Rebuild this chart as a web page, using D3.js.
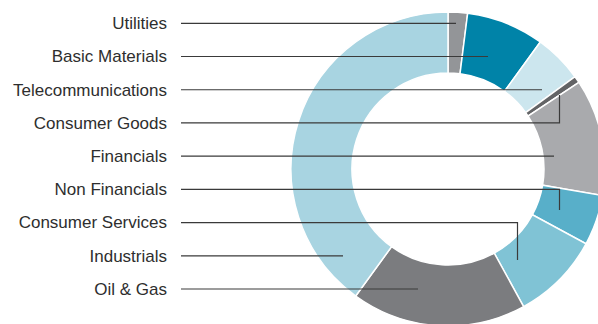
<!DOCTYPE html>
<html>
<head>
<meta charset="utf-8">
<script src="https://cdn.jsdelivr.net/npm/d3@7"></script>
<style>
  html, body { margin: 0; padding: 0; background: #fff; }
  svg { display: block; }
  text { font-family: "Liberation Sans", Arial, Helvetica, sans-serif; }
</style>
</head>
<body>
<svg id="chart" width="598" height="324"></svg>
<script>
// Sector weights (%), in clockwise order starting from 12 o'clock
const sectors = ["Utilities", "Basic Materials", "Telecommunications", "Consumer Goods",
                 "Financials", "Non Financials", "Consumer Services", "Oil & Gas", "Industrials"];
const weights = [2, 8, 5, 0.7, 12, 5.2, 9.1, 18, 40];
const colors  = ["#939598", "#0083a8", "#cce6ee", "#636466", "#a9aaad",
                 "#58afc9", "#80c3d5", "#7b7c7f", "#a8d4e1"];

// Label order down the left side
const labelOrder = ["Utilities", "Basic Materials", "Telecommunications", "Consumer Goods",
                    "Financials", "Non Financials", "Consumer Services", "Industrials", "Oil & Gas"];

// Leader line layout: where each horizontal rule ends, and optional vertical drop
const leaderEnd = {
  "Utilities":          { x: 456 },
  "Basic Materials":    { x: 488 },
  "Telecommunications": { x: 542 },
  "Consumer Goods":     { x: 559.5, y2: 95 },
  "Financials":         { x: 554 },
  "Non Financials":     { x: 559.5, y2: 210 },
  "Consumer Services":  { x: 517.5, y2: 260 },
  "Industrials":        { x: 343 },
  "Oil & Gas":          { x: 418 }
};

const svg = d3.select("#chart");
const cx = 448, cy = 169, rOuter = 157, rInner = 96;

const data = sectors.map((s, i) => ({ name: s, value: weights[i], color: colors[i] }));

const pie = d3.pie().value(d => d.value).sort(null);
const arc = d3.arc().innerRadius(rInner).outerRadius(rOuter);

const g = svg.append("g").attr("transform", `translate(${cx},${cy})`);
g.selectAll("path")
  .data(pie(data))
  .join("path")
  .attr("d", arc)
  .attr("fill", d => d.data.color)
  .attr("stroke", "#fff")
  .attr("stroke-width", 1.5)
  .attr("stroke-linejoin", "miter");

// Label rows
const y = d3.scalePoint().domain(labelOrder).range([23.3, 289]);
const textX = 167, lineX0 = 181;

svg.append("g").selectAll("text")
  .data(labelOrder)
  .join("text")
  .attr("x", textX)
  .attr("y", d => y(d))
  .attr("dy", "0.34em")
  .attr("text-anchor", "end")
  .attr("font-size", 17)
  .attr("fill", "#2e2e2e")
  .text(d => d);

const leaders = svg.append("g")
  .attr("fill", "none")
  .attr("stroke", "#3a3a3a")
  .attr("stroke-width", 1.2);

leaders.selectAll("path")
  .data(labelOrder)
  .join("path")
  .attr("d", d => {
    const e = leaderEnd[d];
    const yy = y(d);
    let p = `M${lineX0},${yy}H${e.x}`;
    if (e.y2 !== undefined) p += `V${e.y2}`;
    return p;
  });
</script>
</body>
</html>
